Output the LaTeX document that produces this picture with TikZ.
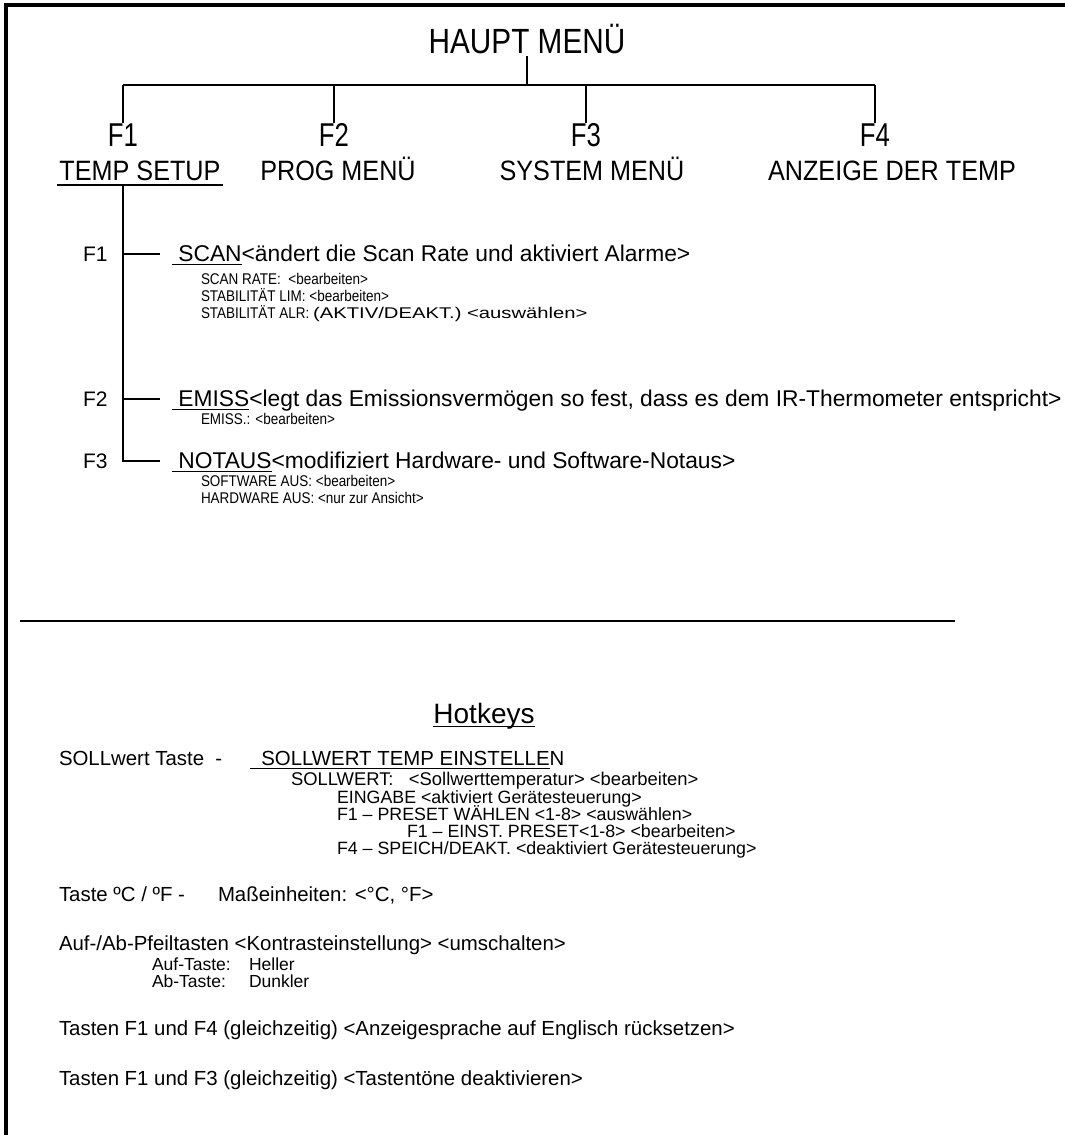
\documentclass[tikz,border=0pt]{standalone}
\usepackage{graphicx}
\usepackage{fontspec}
\setmainfont{Liberation Sans}
\newfontfamily\hdrfont[FakeStretch=0.85]{Liberation Sans}
\newfontfamily\keyfont[FakeStretch=0.78]{Liberation Sans}
\newfontfamily\namefont[FakeStretch=0.9]{Liberation Sans}
\newfontfamily\itemfont[FakeStretch=0.87]{Liberation Sans}
\usetikzlibrary{calc,positioning}
% underline with a leading gap, like the scanned menu
\newcommand\ulk[1]{\setbox0\hbox{#1}\rlap{\vrule height -2.6pt depth 4.4pt width \wd0}\box0}

\begin{document}
\begin{tikzpicture}[x=1pt,y=-1pt,every node/.style={inner sep=0pt,outer sep=0pt},every path/.style={line width=1.4pt},
	mhead/.style={font=\hdrfont\fontsize{35}{40}\selectfont,anchor=base},
	fkey/.style={font=\keyfont\fontsize{33}{38}\selectfont,anchor=base},
	fname/.style={font=\namefont\fontsize{28}{32}\selectfont,anchor=base},
	skey/.style={font=\fontsize{21}{25}\selectfont,anchor=base west},
	branch/.style={font=\fontsize{22.8}{27}\selectfont,anchor=base west},
	subitem/.style={font=\itemfont\fontsize{15.5}{18}\selectfont,anchor=base west},
	hhead/.style={font=\fontsize{28}{34}\selectfont,anchor=base},
	hkey/.style={font=\fontsize{20.4}{24}\selectfont,anchor=base west},
	hsub/.style={font=\fontsize{17.8}{21}\selectfont,anchor=base west},
	hval/.style={font=\fontsize{17.5}{21}\selectfont,anchor=base west},
	frame/.style={line width=3.5pt}]
	\useasboundingbox (0,0) rectangle (1065,1135);
	\draw[frame] (6,1135) -- (6,5) -- (1065,5);

	\node at (527,53) [mhead] (haupt) {HAUPT MENÜ};
	\node at (123,146) [fkey] (k1) {F1};
	\node at (334,146) [fkey] (k2) {F2};
	\node at (586,146) [fkey] (k3) {F3};
	\node at (875,146) [fkey] (k4) {F4};
	\node at (140,180) [fname] (n1) {TEMP SETUP};
	\node at (338,180) [fname] (n2) {PROG MENÜ};
	\node at (592,180) [fname] (n3) {SYSTEM MENÜ};
	\node at (892,180) [fname] (n4) {ANZEIGE DER TEMP};

	\coordinate (bar) at (0,85);
	\draw ([yshift=-3pt]haupt.south) -- (haupt.south |- bar);
	\draw (k1.north |- bar) -- (k4.north |- bar);
	\foreach \k in {k1,k2,k3,k4}
		\draw (\k.north |- bar) -- (\k.north);
	\draw[line width=2.8pt] ([xshift=-2pt,yshift=-5pt]n1.base west) -- ([xshift=2pt,yshift=-5pt]n1.base east);

	\node at (83,261) [skey] (s1) {F1};
	\node at (172,261) [branch] (scan) {\ulk{\ SCAN}<ändert die Scan Rate und aktiviert Alarme>};
	\node at (201,284) [subitem] (scanrate) {SCAN RATE:\ \ <bearbeiten>};
	\node at (201,301) [subitem] (stablim) {STABILITÄT LIM: <bearbeiten>};
	\node at (201,318) [subitem] (stabalr) {STABILITÄT ALR: \scalebox{1.5}[1]{(AKTIV/DEAKT.) <auswählen>}};
	\node at (83,406) [skey] (s2) {F2};
	\node at (172,406) [branch] (emiss) {\ulk{\ EMISS}<legt das Emissionsvermögen so fest, dass es dem IR-Thermometer entspricht>};
	\node at (201,424) [subitem] (emissval) {EMISS.: <bearbeiten>};
	\node at (83,468) [skey] (s3) {F3};
	\node at (172,468) [branch] (notaus) {\ulk{\ NOTAUS}<modifiziert Hardware- und Software-Notaus>};
	\node at (201,486) [subitem] (swaus) {SOFTWARE AUS: <bearbeiten>};
	\node at (201,503) [subitem] (hwaus) {HARDWARE AUS: <nur zur Ansicht>};

	\coordinate (st) at (123,186);
	\coordinate (b1) at ($(scan.base west)+(-12,-7)$);
	\coordinate (b2) at ($(emiss.base west)+(-12,-7)$);
	\coordinate (b3) at ($(notaus.base west)+(-12,-7)$);
	\draw (st) -- (st |- b3) -- (b3);
	\draw (st |- b1) -- (b1);
	\draw (st |- b2) -- (b2);

	\draw[line width=2.5pt] (20,621) -- (955,621);

	\node at (484,723) [hhead] (hotkeys) {\ulk{Hotkeys}};
	\node at (59,765) [hkey] (sollkey) {SOLLwert Taste\ \ -};
	\node at (250,765) [hkey] (solltitle) {\ulk{\ \ SOLLWERT TEMP EINSTELLE}N};
	\node at (291,785) [hsub,font=\fontsize{18.4}{22}\selectfont] (sollwert) {SOLLWERT:\ \ \ <Sollwerttemperatur> <bearbeiten>};
	\node at (337,803) [hsub] (eingabe) {EINGABE <aktiviert Gerätesteuerung>};
	\node at (337,820) [hsub] (preset) {F1 – PRESET WÄHLEN <1-8> <auswählen>};
	\node at (407,837) [hsub] (einst) {F1 – EINST. PRESET<1-8> <bearbeiten>};
	\node at (337,854) [hsub] (speich) {F4 – SPEICH/DEAKT. <deaktiviert Gerätesteuerung>};

	\node at (59,901) [hkey] (tastec) {Taste ºC / ºF -};
	\node at (218,901) [hkey] (einheit) {Maßeinheiten: <°C, °F>};
	\node at (59,950) [hkey] (pfeil) {Auf-/Ab-Pfeiltasten <Kontrasteinstellung> <umschalten>};
	\node at (152,970) [hval] (auftaste) {Auf-Taste:};
	\node at (249,970) [hval] (aufval) {Heller};
	\node at (152,987) [hval] (abtaste) {Ab-Taste:};
	\node at (249,987) [hval] (abval) {Dunkler};
	\node at (59,1035) [hkey] (tf14) {Tasten F1 und F4 (gleichzeitig) <Anzeigesprache auf Englisch rücksetzen>};
	\node at (59,1085) [hkey] (tf13) {Tasten F1 und F3 (gleichzeitig) <Tastentöne deaktivieren>};
\end{tikzpicture}
\end{document}
